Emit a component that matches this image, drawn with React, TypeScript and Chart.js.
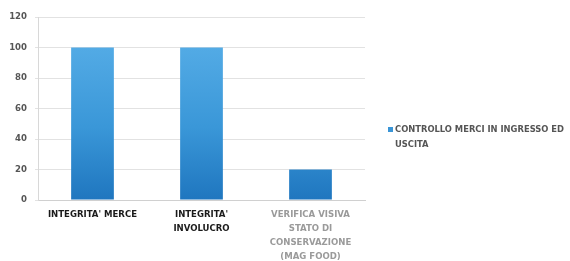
import React, { useEffect, useRef } from "react";
import { Chart, registerables } from "chart.js";

Chart.register(...registerables);

const categories: string[][] = [
  ["INTEGRITA' MERCE"],
  ["INTEGRITA'", "INVOLUCRO"],
  ["VERIFICA VISIVA", "STATO DI", "CONSERVAZIONE", "(MAG FOOD)"],
];
const seriesName = "CONTROLLO MERCI IN INGRESSO ED USCITA";
const legendLines = ["CONTROLLO MERCI IN INGRESSO ED", "USCITA"];
const values = [100, 100, 20];
const labelColors = ["#1a1a1a", "#1a1a1a", "#9a9a9a"];

const FONT = "'DejaVu Sans Condensed', 'DejaVu Sans', sans-serif";

const legendPlugin = {
  id: "customLegend",
  afterDraw(chart: any) {
    const ctx = chart.ctx;
    ctx.save();
    ctx.fillStyle = "#3a95d6";
    ctx.fillRect(388, 127, 5, 5);
    ctx.fillStyle = "#555555";
    ctx.font = `bold 9.3px ${FONT}`;
    ctx.textBaseline = "middle";
    ctx.textAlign = "left";
    legendLines.forEach((l, i) => ctx.fillText(l, 395, 130 + i * 15));
    ctx.restore();
  },
};

export default function App() {
  const ref = useRef<HTMLCanvasElement>(null);
  useEffect(() => {
    const chart = new Chart(ref.current!, {
      type: "bar",
      data: {
        labels: categories,
        datasets: [
          {
            label: seriesName,
            data: values,
            backgroundColor: (c: any) => {
              const area = c.chart.chartArea;
              if (!area) return "#3a95d6";
              const g = c.chart.ctx.createLinearGradient(0, area.top, 0, area.bottom);
              g.addColorStop(0, "#5cb2ea");
              g.addColorStop(0.6, "#3a97d8");
              g.addColorStop(1, "#1f76bf");
              return g;
            },
            categoryPercentage: 0.8,
            barPercentage: 0.49,
          },
        ],
      },
      options: {
        animation: false,
        responsive: false,
        maintainAspectRatio: false,
        layout: { padding: { top: 17, right: 205, left: 0, bottom: 0 } },
        plugins: { legend: { display: false }, tooltip: { enabled: false }, title: { display: false } },
        scales: {
          x: {
            grid: { display: false },
            border: { color: "#d0d0d0" },
            ticks: {
              font: { family: FONT, size: 9.5, weight: "bold", lineHeight: 1.45 },
              color: (c: any) => labelColors[c.index] ?? "#1a1a1a",
              maxRotation: 0,
              autoSkip: false,
              padding: 0,
            },
            afterFit: (s: any) => {
              s.height = 61;
            },
          },
          y: {
            min: 0,
            max: 120,
            ticks: {
              stepSize: 20,
              font: { family: FONT, size: 9.5, weight: "bold" },
              color: "#555555",
              padding: 8,
            },
            grid: { color: "#e2e2e2", tickLength: 3 },
            border: { color: "#d8d8d8" },
            afterFit: (s: any) => {
              s.width = 38;
            },
          },
        },
      },
      plugins: [legendPlugin],
    } as any);
    return () => chart.destroy();
  }, []);
  return (
    <div style={{ position: "fixed", left: 0, top: 0, width: 570, height: 261, background: "#fff" }}>
      <canvas ref={ref} width={570} height={261} style={{ width: 570, height: 261 }} />
    </div>
  );
}
